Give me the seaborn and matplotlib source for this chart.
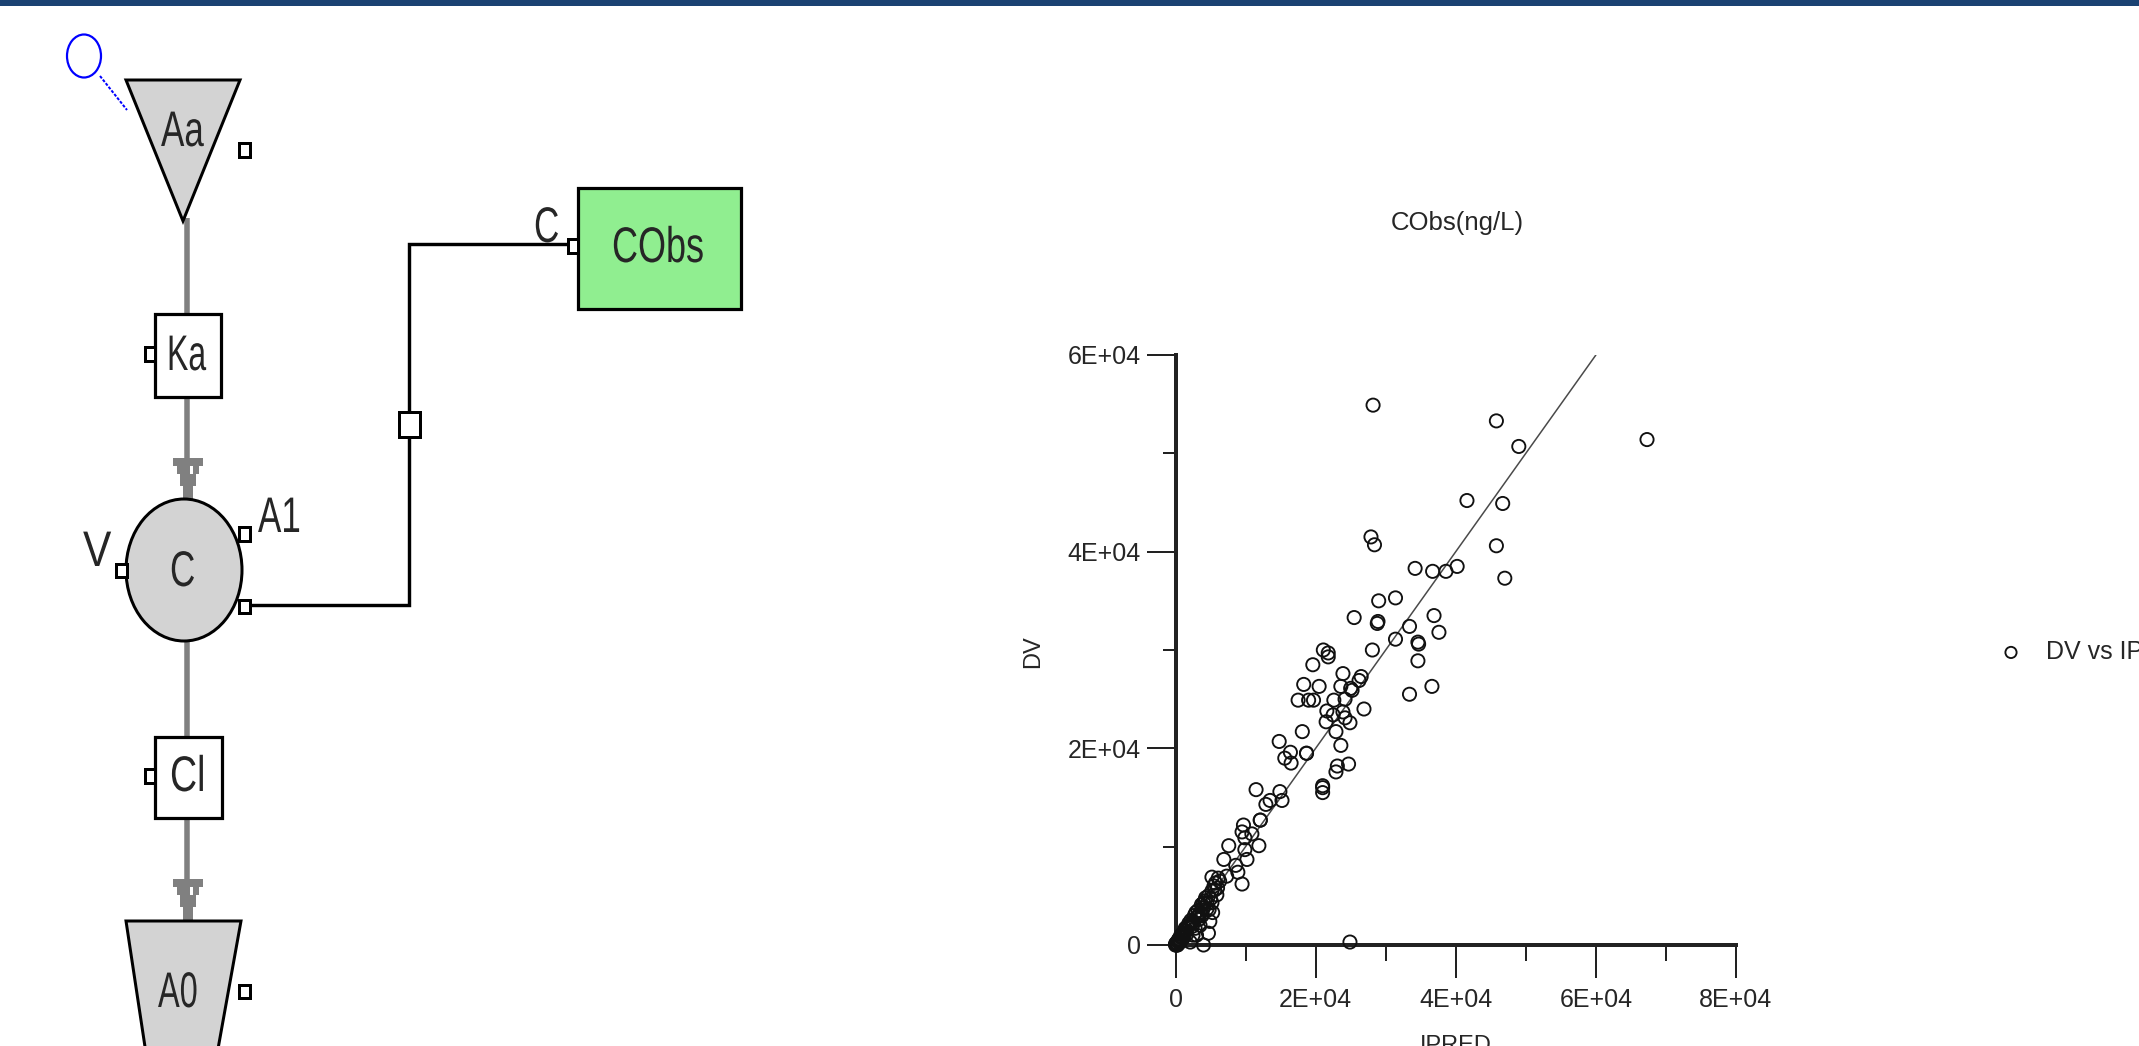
import numpy as np
import pandas as pd
import matplotlib
matplotlib.use('Agg')
import matplotlib.pyplot as plt
import seaborn as sns
from matplotlib.patches import Rectangle, Polygon, Ellipse
from matplotlib.patheffects import AbstractPathEffect
from matplotlib.ticker import FixedLocator, FixedFormatter
from matplotlib.transforms import Affine2D

# =========================
# DATA
# =========================
ipred_far = [28200, 45800, 49000, 67300, 41600, 46700, 27900, 28400, 45800, 34200,
             36700, 38600, 40200, 47000, 29000, 31400, 25500, 28900, 28800, 36900,
             33400, 37600, 31400, 34600, 34700, 28100, 34600, 21100, 21800, 21800,
             19600, 23900, 26500, 26200, 18300, 20500, 23600, 25000, 25200, 36600,
             33400]
dv_far = [54900, 53300, 50700, 51400, 45200, 44900, 41500, 40700, 40600, 38300,
          38000, 38000, 38500, 37300, 35000, 35300, 33300, 32900, 32700, 33500,
          32400, 31800, 31100, 30800, 30600, 30000, 28900, 30000, 29700, 29300,
          28500, 27600, 27300, 26900, 26500, 26300, 26300, 26100, 25900, 26300,
          25500]

ipred_mid = [17500, 19000, 19700, 24200, 22600, 21600, 22500, 23900, 26900, 21500,
             24200, 24900, 22900, 18100, 14800, 23600, 16400, 18700, 18700, 15600,
             16500, 24700, 23100, 22900, 21000, 21000, 21000, 11500, 14900, 15200,
             13500, 12900, 12100, 12100, 9700, 9500, 10900, 9900, 11900, 7600,
             9900, 6900, 10200, 8600, 8900, 9500, 5200, 7300, 6100]
dv_mid = [24900, 24900, 24900, 25000, 24900, 23800, 23400, 23700, 24000, 22700,
          23100, 22600, 21700, 21700, 20700, 20300, 19600, 19500, 19500, 19000,
          18500, 18400, 18200, 17600, 16200, 16000, 15500, 15800, 15600, 14700,
          14700, 14300, 12700, 12700, 12200, 11500, 11300, 10900, 10100, 10100,
          9700, 8700, 8700, 8100, 7400, 6200, 6900, 7000, 6800]

ipred_low = [5600, 5900, 4000, 5200, 4500, 3800, 5300, 3300, 4900, 4700,
             4000, 2300, 1400, 700, 0, 2100, 24900, 200, 400, 500,
             600, 800, 1000, 1200, 1500, 1700, 2000, 2200, 2500, 2700,
             3000, 3200, 3500, 3700, 4000, 4200, 4500, 4700, 5000, 5200,
             5500, 5700, 6000, 6300, 2800, 3000, 3500, 2500, 0, 100,
             300, 100, 200, 300, 600, 900, 1100, 1300, 1600, 1900,
             2400, 2900, 3300, 3800, 4300, 4800, 100, 200, 400, 700]
dv_low = [5600, 5100, 4300, 4300, 3700, 3200, 3300, 2900, 2400, 1200,
          0, 2200, 1700, 900, 0, 300, 300, 200, 300, 600,
          500, 800, 1000, 1200, 1400, 1800, 2000, 2500, 2400, 3000,
          2800, 3500, 3300, 4100, 3800, 4500, 4200, 5000, 4700, 5500,
          6000, 6300, 5800, 6500, 1700, 1000, 2000, 1000, 100, 0,
          100, 200, 100, 0, 400, 1100, 700, 1500, 1100, 2200,
          1900, 3300, 2600, 3000, 4800, 3600, 100, 0, 500, 300]

identity_x = [0, 60000]
identity_y = [0, 60000]

x_major = [0, 20000, 40000, 60000, 80000]
x_minor = [10000, 30000, 50000, 70000]
y_major = [0, 20000, 40000, 60000]
y_minor = [10000, 30000, 50000]
x_ticklabels = ['0', '2E+04', '4E+04', '6E+04', '8E+04']
y_ticklabels = ['0', '2E+04', '4E+04', '6E+04']

df = pd.DataFrame({
    'IPRED': ipred_far + ipred_mid + ipred_low,
    'DV': dv_far + dv_mid + dv_low,
})

W, H = 2139, 1046
PX = 0.72  # one pixel in points at dpi 100
TEXT_COL = '#262626'


class Squeeze(AbstractPathEffect):
    # the diagram font is much narrower than anything installed
    def __init__(self, sx):
        super().__init__()
        self.sx = sx

    def draw_path(self, renderer, gc, tpath, affine, rgbFace=None):
        renderer.draw_path(gc, tpath, Affine2D().scale(self.sx, 1) + affine, rgbFace)


sns.set_theme(style='white')
plt.rcParams['font.family'] = ['Liberation Sans', 'DejaVu Sans']

fig = plt.figure(figsize=(W / 100, H / 100), dpi=100, facecolor='white')

# =========================
# LEFT: MODEL DIAGRAM (pixel space)
# =========================
dg = fig.add_axes([0, 0, 1, 1], zorder=1)
dg.set_xlim(0, W)
dg.set_ylim(H, 0)
dg.axis('off')

GREY = '#808080'
LIGHT = '#d3d3d3'


def box(x0, y0, x1, y1, fc='white', lw=3.2, z=5):
    dg.add_patch(Rectangle((x0, y0), x1 - x0, y1 - y0, fc=fc, ec='black',
                           lw=lw * PX, zorder=z))


def arrow(y):
    steps = [(173, 203, 0, 8), (177, 199, 8, 16), (180, 196, 16, 28), (183, 193, 28, 42)]
    for x0, x1, a, b in steps:
        dg.add_patch(Rectangle((x0, y + a), x1 - x0, b - a, fc=GREY, ec='none', zorder=3))
    dg.add_patch(Rectangle((190, y + 8), 3, 8, fc='white', ec='none', zorder=3))


def label(x, y, s, sx=0.7):
    # x = left edge, y = baseline
    dg.text(x, y, s, fontsize=36, color=TEXT_COL, ha='left', va='baseline', zorder=8,
            path_effects=[Squeeze(sx)])


# title bar of the window
dg.add_patch(Rectangle((0, 0), W, 6, fc='#1a4272', ec='none'))

# grey flow lines
for y0, y1 in [(218, 460), (640, 882)]:
    dg.plot([186.5, 186.5], [y0, y1], color=GREY, lw=5.5 * PX, zorder=2, solid_capstyle='butt')
arrow(458)
arrow(879)

# Q loop
dg.add_patch(Ellipse((84, 56), 34, 43, fc='none', ec='#0000ff', lw=2.2 * PX, zorder=4))
dg.plot([100, 127], [76, 110], color='#0000ff', lw=2 * PX, ls=(0, (1.5, 0.8)), zorder=4)

# compartments
dg.add_patch(Polygon([(126, 80), (240, 80), (183, 221)], closed=True, fc=LIGHT, ec='black',
                     lw=3 * PX, zorder=4))
dg.add_patch(Ellipse((184, 570), 116, 142, fc=LIGHT, ec='black', lw=3 * PX, zorder=4))
dg.add_patch(Polygon([(126, 921), (241, 921), (216, 1060), (147, 1060)], closed=True, fc=LIGHT,
                     ec='black', lw=3 * PX, zorder=4))

# parameter boxes
box(155, 314, 221, 397)
box(155, 737, 222, 818)
box(578, 188, 741, 309, fc='#90ee90')

# observation wire
dg.plot([251, 409, 409, 567], [605, 605, 244, 244], color='black', lw=3.4 * PX, zorder=3,
        solid_joinstyle='miter')

# small connector squares
for x0, y0, x1, y1 in [(239, 143, 250, 157), (145, 347, 155, 361), (239, 527, 250, 541),
                       (239, 600, 250, 613), (116, 564, 127, 577), (145, 769, 155, 783),
                       (239, 985, 250, 998), (568, 239, 578, 253), (399, 412, 420, 437)]:
    box(x0, y0, x1, y1, lw=3, z=6)

label(161, 146, 'Aa')
label(167, 370, 'Ka', sx=0.64)
label(612, 262, 'CObs', sx=0.72)
label(534, 242, 'C')
label(258, 532, 'A1')
label(83, 566, 'V', sx=0.85)
label(170, 586, 'C')
label(170, 791, 'Cl', sx=0.75)
label(158, 1007, 'A0', sx=0.65)

# =========================
# RIGHT: DV vs IPRED
# =========================
left, right, top, bottom = 1175.5, 1736, 355, 945
ax = fig.add_axes([left / W, 1 - bottom / H, (right - left) / W, (bottom - top) / H], zorder=2)
ax.patch.set_alpha(0)

sns.lineplot(x=identity_x, y=identity_y, ax=ax, color='#4a4a4a', linewidth=1.1, legend=False,
             errorbar=None)
sns.scatterplot(data=df, x='IPRED', y='DV', ax=ax, marker='o', s=90, facecolor='none',
                edgecolor='#111111', linewidth=1.35, label='DV vs IPRED', clip_on=False, zorder=5)

ax.set_xlim(0, 80000)
ax.set_ylim(0, 60000)

ax.xaxis.set_major_locator(FixedLocator(x_major))
ax.xaxis.set_major_formatter(FixedFormatter(x_ticklabels))
ax.xaxis.set_minor_locator(FixedLocator(x_minor))
ax.yaxis.set_major_locator(FixedLocator(y_major))
ax.yaxis.set_major_formatter(FixedFormatter(y_ticklabels))
ax.yaxis.set_minor_locator(FixedLocator(y_minor))

ax.tick_params(axis='x', which='major', bottom=True, length=33 * PX, width=2 * PX, pad=7,
               labelsize=18, labelcolor=TEXT_COL, color='#222222')
ax.tick_params(axis='x', which='minor', bottom=True, length=16 * PX, width=2 * PX, color='#222222')
ax.tick_params(axis='y', which='major', left=True, length=29 * PX, width=2 * PX, pad=4,
               labelsize=18, labelcolor=TEXT_COL, color='#222222')
ax.tick_params(axis='y', which='minor', left=True, length=13 * PX, width=2 * PX, color='#222222')

sns.despine(ax=ax)
for side in ['left', 'bottom']:
    ax.spines[side].set_linewidth(4 * PX)
    ax.spines[side].set_color('#222222')

ax.set_xlabel('IPRED', fontsize=17, color=TEXT_COL)
ax.xaxis.set_label_coords(0.5, (bottom - 1046) / (bottom - top), transform=ax.transAxes)
ax.xaxis.label.set_va('center')
ax.set_ylabel('DV', fontsize=17, color=TEXT_COL)
ax.yaxis.set_label_coords((1033 - left) / (right - left), (bottom - 652) / (bottom - top))
ax.yaxis.label.set_va('center')

fig.text(1457 / W, 1 - 223 / H, 'CObs(ng/L)', fontsize=18.5, color=TEXT_COL, ha='center', va='center')

leg = ax.legend(loc='center left', bbox_to_anchor=(1986 / W, 1 - 652 / H),
                bbox_transform=fig.transFigure, frameon=False, fontsize=18, markerscale=0.85,
                handletextpad=0.4, labelcolor=TEXT_COL, borderpad=0, borderaxespad=0)

plt.savefig('out.png', dpi=100)
